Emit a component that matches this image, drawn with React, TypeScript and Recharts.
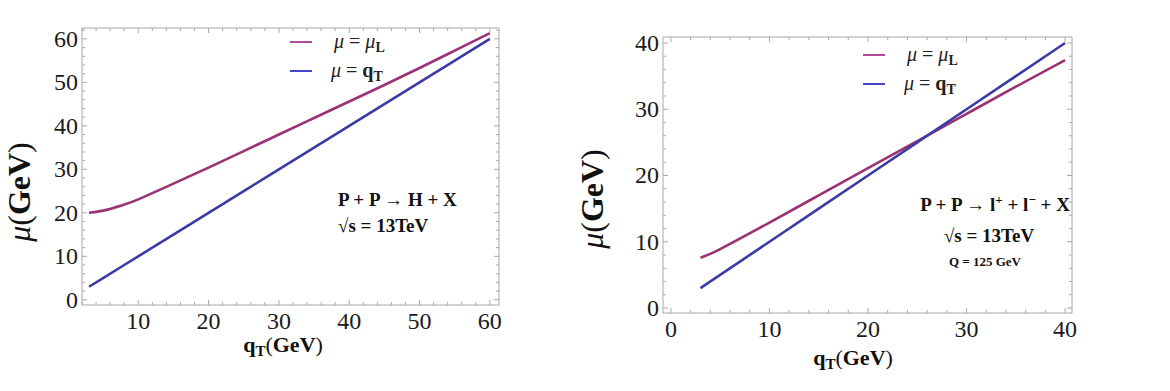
import React from 'react';
import { LineChart, Line, XAxis, YAxis } from 'recharts';

// left panel: P + P -> H + X
const qtLeft = [3, 5, 8, 10, 15, 20, 25, 30, 35, 40, 45, 50, 55, 60];
const muLLeft = [20, 20.5, 21.9, 23.1, 26.7, 30.4, 34.2, 38.0, 41.8, 45.6, 49.4, 53.3, 57.3, 61.3];
const muQtLeft = [3, 5, 8, 10, 15, 20, 25, 30, 35, 40, 45, 50, 55, 60];

// right panel: P + P -> l+ l- + X
const qtRight = [3, 5, 10, 15, 20, 25, 30, 35, 40];
const muLRight = [7.6, 8.9, 12.9, 17.0, 21.1, 25.2, 29.3, 33.4, 37.4];
const muQtRight = [3, 5, 10, 15, 20, 25, 30, 35, 40];

const leftXTicks = [2, 4, 6, 8, 10, 12, 14, 16, 18, 20, 22, 24, 26, 28, 30, 32, 34, 36, 38, 40, 42, 44, 46, 48, 50, 52, 54, 56, 58, 60];
const leftYTicks = [0, 2, 4, 6, 8, 10, 12, 14, 16, 18, 20, 22, 24, 26, 28, 30, 32, 34, 36, 38, 40, 42, 44, 46, 48, 50, 52, 54, 56, 58, 60, 62];
const rightXTicks = [0, 2, 4, 6, 8, 10, 12, 14, 16, 18, 20, 22, 24, 26, 28, 30, 32, 34, 36, 38, 40];
const rightYTicks = [0, 2, 4, 6, 8, 10, 12, 14, 16, 18, 20, 22, 24, 26, 28, 30, 32, 34, 36, 38, 40];

const leftData = qtLeft.map((q, i) => ({ q, muL: muLLeft[i], muQt: muQtLeft[i] }));
const rightData = qtRight.map((q, i) => ({ q, muL: muLRight[i], muQt: muQtRight[i] }));

const RED = '#9b3372';
const BLUE = '#3b3ba6';
const FRAME = '#a8a8a8';
const SERIF = '"Liberation Serif", "DejaVu Serif", serif';

type Side = 'bottom' | 'top' | 'left' | 'right';

function makeTick(side: Side, showLabels: boolean) {
  return (props: any) => {
    const { x, y, payload } = props;
    const v = payload.value as number;
    const major = v % 10 === 0;
    const len = major ? 5 : 3;
    let line;
    if (side === 'bottom') line = <line x1={x} y1={y} x2={x} y2={y - len} stroke={FRAME} />;
    else if (side === 'top') line = <line x1={x} y1={y} x2={x} y2={y + len} stroke={FRAME} />;
    else if (side === 'left') line = <line x1={x} y1={y} x2={x + len} y2={y} stroke={FRAME} />;
    else line = <line x1={x} y1={y} x2={x - len} y2={y} stroke={FRAME} />;
    const font = { fontFamily: SERIF, fontSize: 24 };
    let label = null;
    if (showLabels && major) {
      if (side === 'bottom') {
        label = (
          <text x={x} y={y + 24} textAnchor="middle" style={font} fill="#1a1a1a">
            {v}
          </text>
        );
      } else if (side === 'left') {
        label = (
          <text x={x - 4} y={y + 8} textAnchor="end" style={font} fill="#1a1a1a">
            {v}
          </text>
        );
      }
    }
    return (
      <g>
        {line}
        {label}
      </g>
    );
  };
}

function Panel({ data, width, height, margin, xDomain, yDomain, xTicks, yTicks }: any) {
  return (
    <LineChart width={width} height={height} data={data} margin={margin}>
      <XAxis type="number" dataKey="q" domain={xDomain} ticks={xTicks} allowDataOverflow height={1}
        tickSize={0} tickMargin={0} stroke={FRAME} tick={makeTick('bottom', true)} interval={0} />
      <XAxis xAxisId="top" orientation="top" type="number" dataKey="q" domain={xDomain} ticks={xTicks}
        allowDataOverflow height={1} tickSize={0} tickMargin={0} stroke={FRAME} tick={makeTick('top', false)} interval={0} />
      <YAxis type="number" domain={yDomain} ticks={yTicks} allowDataOverflow width={1}
        tickSize={0} tickMargin={0} stroke={FRAME} tick={makeTick('left', true)} interval={0} />
      <YAxis yAxisId="right" orientation="right" type="number" domain={yDomain} ticks={yTicks}
        allowDataOverflow width={1} tickSize={0} tickMargin={0} stroke={FRAME} tick={makeTick('right', false)} interval={0} />
      <Line type="natural" dataKey="muL" stroke={RED} strokeWidth={2.6} dot={false} isAnimationActive={false} />
      <Line type="linear" dataKey="muQt" stroke={BLUE} strokeWidth={2.6} dot={false} isAnimationActive={false} />
    </LineChart>
  );
}

function Legend({ x, y }: { x: number; y: number }) {
  return (
    <g style={{ fontFamily: SERIF, fontSize: 20 }} fill="#222">
      <line x1={x} y1={y} x2={x + 22} y2={y} stroke="#b04a9a" strokeWidth={2} />
      <text x={x + 44} y={y + 6}>
        <tspan fontStyle="italic">μ</tspan> = <tspan fontStyle="italic">μ</tspan>
        <tspan fontWeight="bold" fontSize={14} dy={4}>L</tspan>
      </text>
      <line x1={x} y1={y + 29} x2={x + 22} y2={y + 29} stroke="#4646c8" strokeWidth={2} />
      <text x={x + 41} y={y + 35}>
        <tspan fontStyle="italic">μ</tspan> = <tspan fontWeight="bold">q</tspan>
        <tspan fontWeight="bold" fontSize={14} dy={4}>T</tspan>
      </text>
    </g>
  );
}

function YLabel({ x, y }: { x: number; y: number }) {
  return (
    <text transform={`translate(${x},${y}) rotate(-90)`} textAnchor="middle" style={{ fontFamily: SERIF, fontSize: 32 }} fill="#111">
      <tspan fontStyle="italic">μ</tspan>(<tspan fontWeight="bold">GeV</tspan>)
    </text>
  );
}

function XLabel({ x, y }: { x: number; y: number }) {
  return (
    <text x={x} y={y} textAnchor="middle" style={{ fontFamily: SERIF, fontSize: 22 }} fill="#111">
      <tspan fontWeight="bold">q</tspan>
      <tspan fontWeight="bold" fontSize={15} dy={4}>T</tspan>
      <tspan dy={-4}>(</tspan>
      <tspan fontWeight="bold">GeV</tspan>)
    </text>
  );
}

export default function App() {
  return (
    <div style={{ position: 'absolute', left: 0, top: 0, width: 1170, height: 391, background: '#fff' }}>
      <div style={{ position: 'absolute', left: 0, top: 0 }}>
        <Panel data={leftData} width={560} height={391}
          margin={{ top: 27, right: 60, bottom: 85, left: 81 }}
          xDomain={[2, 61.3]} yDomain={[-1.2, 62.5]} xTicks={leftXTicks} yTicks={leftYTicks} />
      </div>
      <div style={{ position: 'absolute', left: 600, top: 0 }}>
        <Panel data={rightData} width={570} height={391}
          margin={{ top: 36, right: 97, bottom: 77, left: 62 }}
          xDomain={[-0.8, 40.7]} yDomain={[-0.75, 40.9]} xTicks={rightXTicks} yTicks={rightYTicks} />
      </div>
      <svg width={1170} height={391} style={{ position: 'absolute', left: 0, top: 0, pointerEvents: 'none' }}>
        <Legend x={290} y={42} />
        <Legend x={863} y={55} />
        <YLabel x={30} y={192} />
        <YLabel x={603} y={199} />
        <XLabel x={283} y={352} />
        <XLabel x={853} y={365} />
        <g style={{ fontFamily: SERIF, fontSize: 19, fontWeight: 'bold' }} fill="#111">
          <text x={338} y={206}>P + P → H + X</text>
          <text x={338} y={232}>√s = 13TeV</text>
          <text x={995} y={211} textAnchor="middle">
            P + P → l<tspan fontSize={13} dy={-7}>+</tspan>
            <tspan dy={7}> + l</tspan>
            <tspan fontSize={13} dy={-7}>−</tspan>
            <tspan dy={7}> + X</tspan>
          </text>
          <text x={989} y={242} textAnchor="middle">√s = 13TeV</text>
          <text x={985} y={266} textAnchor="middle" style={{ fontSize: 13 }}>Q = 125 GeV</text>
        </g>
      </svg>
    </div>
  );
}
